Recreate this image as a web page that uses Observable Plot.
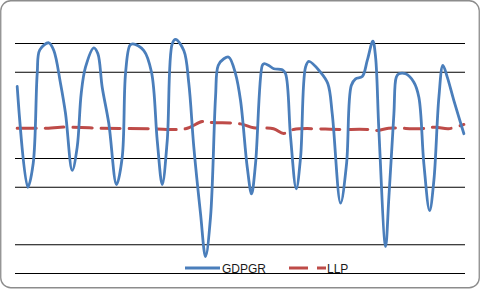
<!DOCTYPE html>
<html><head><meta charset="utf-8">
<script src="https://cdn.jsdelivr.net/npm/d3@7"></script>
<script src="https://cdn.jsdelivr.net/npm/@observablehq/plot@0.6"></script>
<style>body{margin:0;background:#fff}</style>
</head><body><div id="chart"></div>
<script>
const gdpT = [0,2.37,3.58,4.48,5.06,7.08,8.2,9.7,10.82,12.32,13.43,14.33,15.29,17.15,18.05,19.03,20.51,22.23,23.51,24.25,25.21,25.88,28.35,30.07,31.35,32.47,33.59,34.71,35.45,37.3,38.42,39.54,41.04,42.16,43.28,44.4,45.0,46.26,47.38,48.88,50.0,51.5,52.46,53.35,54.86,55.22,56.34,57.46,59.34,60.08,61.2,62.47,63.44,64.55,65.29,67.91,69.55,70.53,72.39,73.73,74.79,75.75,77.25,78.37,79.62,80.23,80.97,82.47,83.21,84.33,84.86,85.45,86.95,88.8,89.92,91.04,92.32,93.28,94.4,95.3,96.28,97.76,100];
const gdpV = [7.01,0.0,1.65,7.91,9.56,10.05,9.51,7.22,5.13,1.17,2.79,6.52,8.35,9.70,9.30,6.96,4.43,0.19,2.09,7.91,9.86,9.98,9.51,8.0,3.25,0.19,3.25,9.98,10.28,9.51,7.22,2.79,-1.83,-4.82,-2.08,6.26,8.47,8.94,9.05,7.89,6.03,1.39,-0.46,1.63,8.47,8.59,8.47,8.24,8.17,7.89,3.48,-0.11,2.09,8.35,8.75,8.0,7.2,5.11,-1.11,1.63,7.08,7.54,7.70,8.82,10.16,9.05,3.95,-4.12,-0.69,5.11,7.66,7.89,7.89,7.31,6.26,1.63,-1.62,0.47,6.26,8.47,7.66,6.03,3.72];
const llpT = [0,7.0,9.7,18.65,29.85,37.69,41.42,43.73,50,52.91,57.39,59.63,61.87,72.39,78.44,80.61,83.14,90.3,93.66,96.57,100];
const llpV = [4.11,4.11,4.18,4.11,4.07,4.07,4.57,4.50,4.41,4.14,4.07,3.74,4.02,4.02,4.02,3.95,4.11,4.07,4.18,4.07,4.37];
const gridTicks = [10,8,2,0,-4,-6];
const seriesNames = ["GDPGR","LLP"];

const gdp = gdpT.map((t,i)=>({t, v: gdpV[i]}));
const llp = llpT.map((t,i)=>({t, v: llpV[i]}));
const blue = "#4A7EBB", red = "#BE4B48";

const plot = Plot.plot({
  width: 481, height: 290,
  marginLeft: 15, marginRight: 16, marginTop: 43, marginBottom: 17,
  x: {domain: [-0.38, 100.36], axis: null},
  y: {domain: [-6, 10], axis: null},
  marks: [
    Plot.ruleY(gridTicks, {stroke: "#000", strokeWidth: 1.2}),
    Plot.line(llp, {x: "t", y: "v", stroke: red, strokeWidth: 3, strokeDasharray: "19,9", curve: "catmull-rom"}),
    Plot.line(gdp, {x: "t", y: "v", stroke: blue, strokeWidth: 2.8, curve: "catmull-rom"})
  ]
});
const svg = d3.select(plot);
svg.insert("rect", ":first-child").attr("x",0.75).attr("y",0.75).attr("width",478.5).attr("height",287)
  .attr("rx",10).attr("fill","#fff").attr("stroke","#8c8c8c").attr("stroke-width",1.3);
const lg = svg.append("g").attr("font-family","Liberation Sans, Arial, sans-serif").attr("font-size",12).attr("fill","#1a1a1a").attr("text-anchor","start");
lg.append("line").attr("x1",185).attr("x2",220).attr("y1",268).attr("y2",268).attr("stroke",blue).attr("stroke-width",2.8);
lg.append("text").attr("x",222).attr("y",272.5).attr("text-anchor","start").text(seriesNames[0]);
lg.append("line").attr("x1",289).attr("x2",326).attr("y1",268).attr("y2",268).attr("stroke",red).attr("stroke-width",3).attr("stroke-dasharray","19,9");
lg.append("text").attr("x",327).attr("y",272.5).attr("text-anchor","start").text(seriesNames[1]);
document.getElementById("chart").appendChild(plot);
</script></body></html>
